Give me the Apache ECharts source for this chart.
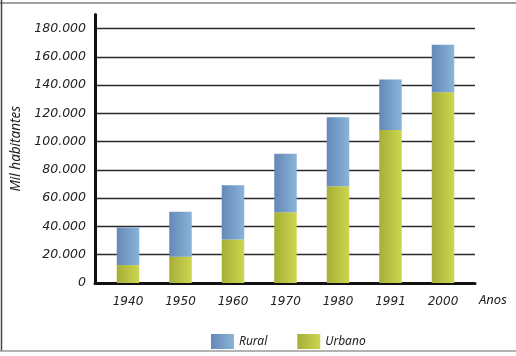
<!DOCTYPE html>
<html><head><meta charset="utf-8">
<script src="https://cdn.jsdelivr.net/npm/echarts@6/dist/echarts.min.js"></script>
<style>html,body{margin:0;padding:0;background:#fff}#c{width:516px;height:356px}</style>
</head><body><div id="c"></div>
<script>
var years = ['1940','1950','1960','1970','1980','1991','2000'];
var urbano = [12700, 18600, 30800, 50100, 68500, 108200, 135000];
var rural = [26600, 31800, 38400, 41400, 48700, 35800, 33500];
var yMin = 0, yMax = 190000, yStep = 20000;

var chart = echarts.init(document.getElementById('c'), null, {renderer:'canvas'});
function fmt(v){ return v === 0 ? '0' : String(v).replace(/\B(?=(\d{3})+(?!\d))/g, '.'); }
var blueGrad = new echarts.graphic.LinearGradient(0,0,1,0,[{offset:0,color:'#6488b8'},{offset:1,color:'#8ab4d8'}]);
var greenGrad = new echarts.graphic.LinearGradient(0,0,1,0,[{offset:0,color:'#a6ae36'},{offset:1,color:'#cdd650'}]);
chart.setOption({
  animation:false,
  backgroundColor:'#fff',
  graphic:[
    {type:'line', shape:{x1:1.5,y1:0,x2:1.5,y2:351}, style:{stroke:'#444',lineWidth:1.5}, silent:true},
    {type:'line', shape:{x1:0,y1:3,x2:516,y2:3}, style:{stroke:'#444',lineWidth:1.2}, silent:true},
    {type:'line', shape:{x1:0,y1:351,x2:516,y2:351}, style:{stroke:'#999',lineWidth:1.5}, silent:true},
    {type:'text', left:479, top:294, silent:true,
     style:{text:'Anos', fontFamily:'Noto Sans', fontStyle:'italic', fontSize:13, fill:'#222'}}
  ],
  grid:[
    {left:95, right:41, top:14.4, bottom:73},
    {left:101.75, right:46.75, top:14.4, bottom:73}
  ],
  legend:{
    left:206, top:329, itemWidth:23, itemHeight:15, itemGap:30,
    icon:'rect',
    data:['Rural','Urbano'],
    textStyle:{fontFamily:'Noto Sans', fontStyle:'italic', fontSize:12, color:'#222'}
  },
  xAxis:[
    {gridIndex:0, type:'value', min:0, max:1, show:true,
     axisLine:{show:true, lineStyle:{color:'#111', width:3}},
     axisTick:{show:false}, axisLabel:{show:false}, splitLine:{show:false}},
    {gridIndex:1, type:'category', data:years, boundaryGap:true,
     axisLine:{show:false}, axisTick:{show:false}, splitLine:{show:false},
     axisLabel:{margin:13, fontFamily:'DejaVu Sans', fontStyle:'italic', fontSize:12, color:'#222'}}
  ],
  yAxis:[
    {gridIndex:0, type:'value', min:yMin, max:yMax, interval:yStep,
     axisLine:{show:true, lineStyle:{color:'#111', width:3}},
     axisTick:{show:false},
     axisLabel:{margin:9, showMaxLabel:false, formatter:fmt, fontFamily:'DejaVu Sans', fontStyle:'italic', fontSize:12.5, color:'#222'},
     splitLine:{show:true, showMaxLine:false, showMinLine:false, lineStyle:{color:'#2a2a2a', width:1.4}},
     name:'Mil habitantes', nameLocation:'middle', nameGap:71, nameRotate:90,
     nameTextStyle:{fontFamily:'Noto Sans', fontStyle:'italic', fontSize:13.5, color:'#222'}},
    {gridIndex:1, type:'value', min:yMin, max:yMax, interval:yStep, show:false, splitLine:{show:false}}
  ],
  series:[
    {name:'Urbano', type:'bar', stack:'t', xAxisIndex:1, yAxisIndex:1, barWidth:22.5, data:urbano,
     itemStyle:{color:greenGrad}},
    {name:'Rural', type:'bar', stack:'t', xAxisIndex:1, yAxisIndex:1, barWidth:22.5, data:rural,
     itemStyle:{color:blueGrad}}
  ]
});
</script></body></html>
